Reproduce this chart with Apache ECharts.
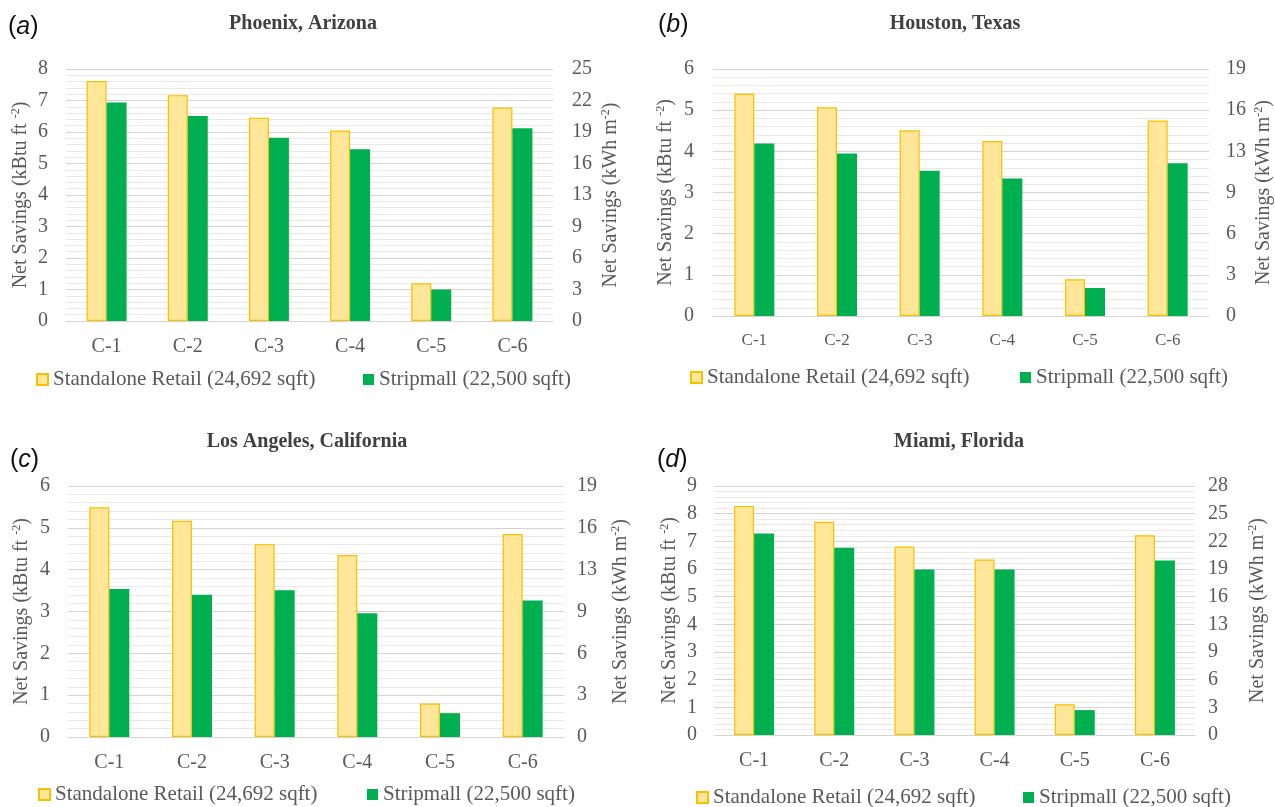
<!DOCTYPE html>
<html>
<head>
<meta charset="utf-8">
<script src="https://cdn.jsdelivr.net/npm/echarts@6/dist/echarts.min.js"></script>
<style>
html,body{margin:0;padding:0;background:#fff;}
#chart{width:1275px;height:807px;}
</style>
</head>
<body>
<div id="chart"></div>
<script>
// ---- data ----
const categories = ['C-1', 'C-2', 'C-3', 'C-4', 'C-5', 'C-6'];
const seriesNames = ['Standalone Retail (24,692 sqft)', 'Stripmall (22,500 sqft)'];

const phoenixStandalone = [7.62, 7.17, 6.45, 6.05, 1.20, 6.78];
const phoenixStripmall  = [6.94, 6.51, 5.82, 5.45, 1.00, 6.12];
const houstonStandalone = [5.40, 5.07, 4.51, 4.25, 0.89, 4.75];
const houstonStripmall  = [4.19, 3.95, 3.53, 3.34, 0.68, 3.71];
const laStandalone      = [5.49, 5.17, 4.61, 4.35, 0.80, 4.85];
const laStripmall       = [3.54, 3.40, 3.51, 2.96, 0.57, 3.26];
const miamiStandalone   = [8.28, 7.71, 6.81, 6.34, 1.11, 7.22];
const miamiStripmall    = [7.28, 6.77, 5.98, 5.98, 0.90, 6.31];

const leftMaxA = 8, leftMaxB = 6, leftMaxC = 6, leftMaxD = 9;
const rightTicksA = ['0', '3', '6', '9', '13', '16', '19', '22', '25'];
const rightTicksB = ['0', '3', '6', '9', '13', '16', '19'];
const rightTicksC = ['0', '3', '6', '9', '13', '16', '19'];
const rightTicksD = ['0', '3', '6', '9', '13', '16', '19', '22', '25', '28'];

const titles = ['Phoenix, Arizona', 'Houston, Texas', 'Los Angeles, California', 'Miami, Florida'];
const panelLetters = ['a', 'b', 'c', 'd'];

// ---- styling / layout ----
const SERIF = '"Liberation Serif", "Times New Roman", serif';
const SANS = '"Liberation Sans", Arial, sans-serif';
const TXT = '#595959';
const YELLOW = '#ffe699', YELLOW_BORDER = '#f7c000', GREEN = '#00b050';

const panels = [
  { grid: {left: 66, top: 69, width: 487, height: 252}, max: leftMaxA, ticks: rightTicksA,
    std: phoenixStandalone, strip: phoenixStripmall, catSize: 20,
    title: {x: 303, y: 24}, letter: {x: 8, y: 27},
    lGap: 34, rGap: 47, lMargin: 18, rMargin: 19,
    legend: [{left: 36, cy: 380}, {left: 363, cy: 380}] },
  { grid: {left: 713, top: 69, width: 499, height: 247}, max: leftMaxB, ticks: rightTicksB,
    std: houstonStandalone, strip: houstonStripmall, catSize: 17,
    title: {x: 955, y: 24}, letter: {x: 658, y: 25},
    lGap: 36, rGap: 44, lMargin: 19, rMargin: 17,
    legend: [{left: 690, cy: 378}, {left: 1020, cy: 378}] },
  { grid: {left: 68, top: 486, width: 496, height: 251}, max: leftMaxC, ticks: rightTicksC,
    std: laStandalone, strip: laStripmall, catSize: 20,
    title: {x: 307, y: 442}, letter: {x: 10, y: 460},
    lGap: 35, rGap: 46, lMargin: 18, rMargin: 13,
    legend: [{left: 38, cy: 795}, {left: 367, cy: 795}] },
  { grid: {left: 714, top: 486, width: 481, height: 249}, max: leftMaxD, ticks: rightTicksD,
    std: miamiStandalone, strip: miamiStripmall, catSize: 20,
    title: {x: 959, y: 442}, letter: {x: 657, y: 460},
    lGap: 33, rGap: 52, lMargin: 17, rMargin: 13,
    legend: [{left: 696, cy: 798}, {left: 1023, cy: 798}] }
];

const grid = [], xAxis = [], yAxis = [], series = [], legend = [], graphic = [];

panels.forEach((p, i) => {
  grid.push(Object.assign({containLabel: false}, p.grid));
  xAxis.push({
    type: 'category', gridIndex: i, data: categories,
    axisLine: {show: true, lineStyle: {color: '#d4d4d4', width: 1}},
    axisTick: {show: false},
    axisLabel: {color: TXT, fontFamily: SERIF, fontSize: p.catSize, margin: 16}
  });
  const nameStyle = {
    color: TXT, fontFamily: SERIF, fontSize: 20,
    rich: {sup: {color: TXT, fontFamily: SERIF, fontSize: 12, padding: [0, 0, 10, 0]}}
  };
  yAxis.push({
    type: 'value', gridIndex: i, position: 'left', min: 0, max: p.max, interval: 1,
    name: 'Net Savings (kBtu ft {sup|-2})', nameLocation: 'middle', nameGap: p.lGap,
    nameTextStyle: nameStyle,
    axisLine: {show: false}, axisTick: {show: false},
    axisLabel: {color: TXT, fontFamily: SERIF, fontSize: 20, margin: p.lMargin},
    splitLine: {show: true, lineStyle: {color: '#d4d4d4', width: 1}},
    minorTick: {show: false, splitNumber: 5},
    minorSplitLine: {show: true, lineStyle: {color: '#e9e9e9', width: 1}}
  });
  const ticks = p.ticks;
  yAxis.push({
    type: 'value', gridIndex: i, position: 'right', min: 0, max: p.max, interval: 1,
    name: 'Net Savings (kWh m{sup|-2})', nameLocation: 'middle', nameGap: p.rGap,
    nameTextStyle: nameStyle,
    axisLine: {show: false}, axisTick: {show: false},
    axisLabel: {color: TXT, fontFamily: SERIF, fontSize: 20, margin: p.rMargin,
      formatter: (v, idx) => ticks[idx]},
    splitLine: {show: false}
  });
  series.push({
    name: seriesNames[0], type: 'bar', xAxisIndex: i, yAxisIndex: i * 2,
    data: p.std, barWidth: 20, barGap: '0%',
    itemStyle: {color: YELLOW, borderColor: YELLOW_BORDER, borderWidth: 1.2}
  });
  series.push({
    name: seriesNames[1], type: 'bar', xAxisIndex: i, yAxisIndex: i * 2,
    data: p.strip, barWidth: 20, barGap: '0%',
    itemStyle: {color: GREEN}
  });
  p.legend.forEach((lg, k) => {
    legend.push({
      data: [seriesNames[k]], left: lg.left, top: lg.cy - 11, padding: 0,
      icon: 'rect', itemWidth: 11, itemHeight: 11, itemGap: 0, selectedMode: false,
      textStyle: {color: TXT, fontFamily: SERIF, fontSize: 21, padding: [0, 0, 0, 0]}
    });
  });
  graphic.push({
    type: 'text', x: p.title.x, y: p.title.y,
    style: {text: titles[i], fontFamily: SERIF, fontWeight: 'bold', fontSize: 20,
      fill: '#404040', align: 'center', verticalAlign: 'middle'}
  });
  graphic.push({
    type: 'text', x: p.letter.x, y: p.letter.y,
    style: {text: '({it|' + panelLetters[i] + '})', fontFamily: SANS, fontSize: 25,
      fill: '#111', align: 'left', verticalAlign: 'middle',
      rich: {it: {fontFamily: SANS, fontSize: 25, fontStyle: 'italic', fill: '#111'}}}
  });
});

const chart = echarts.init(document.getElementById('chart'));
chart.setOption({
  animation: false,
  backgroundColor: '#fff',
  grid, xAxis, yAxis, series, legend, graphic
});
</script>
</body>
</html>
